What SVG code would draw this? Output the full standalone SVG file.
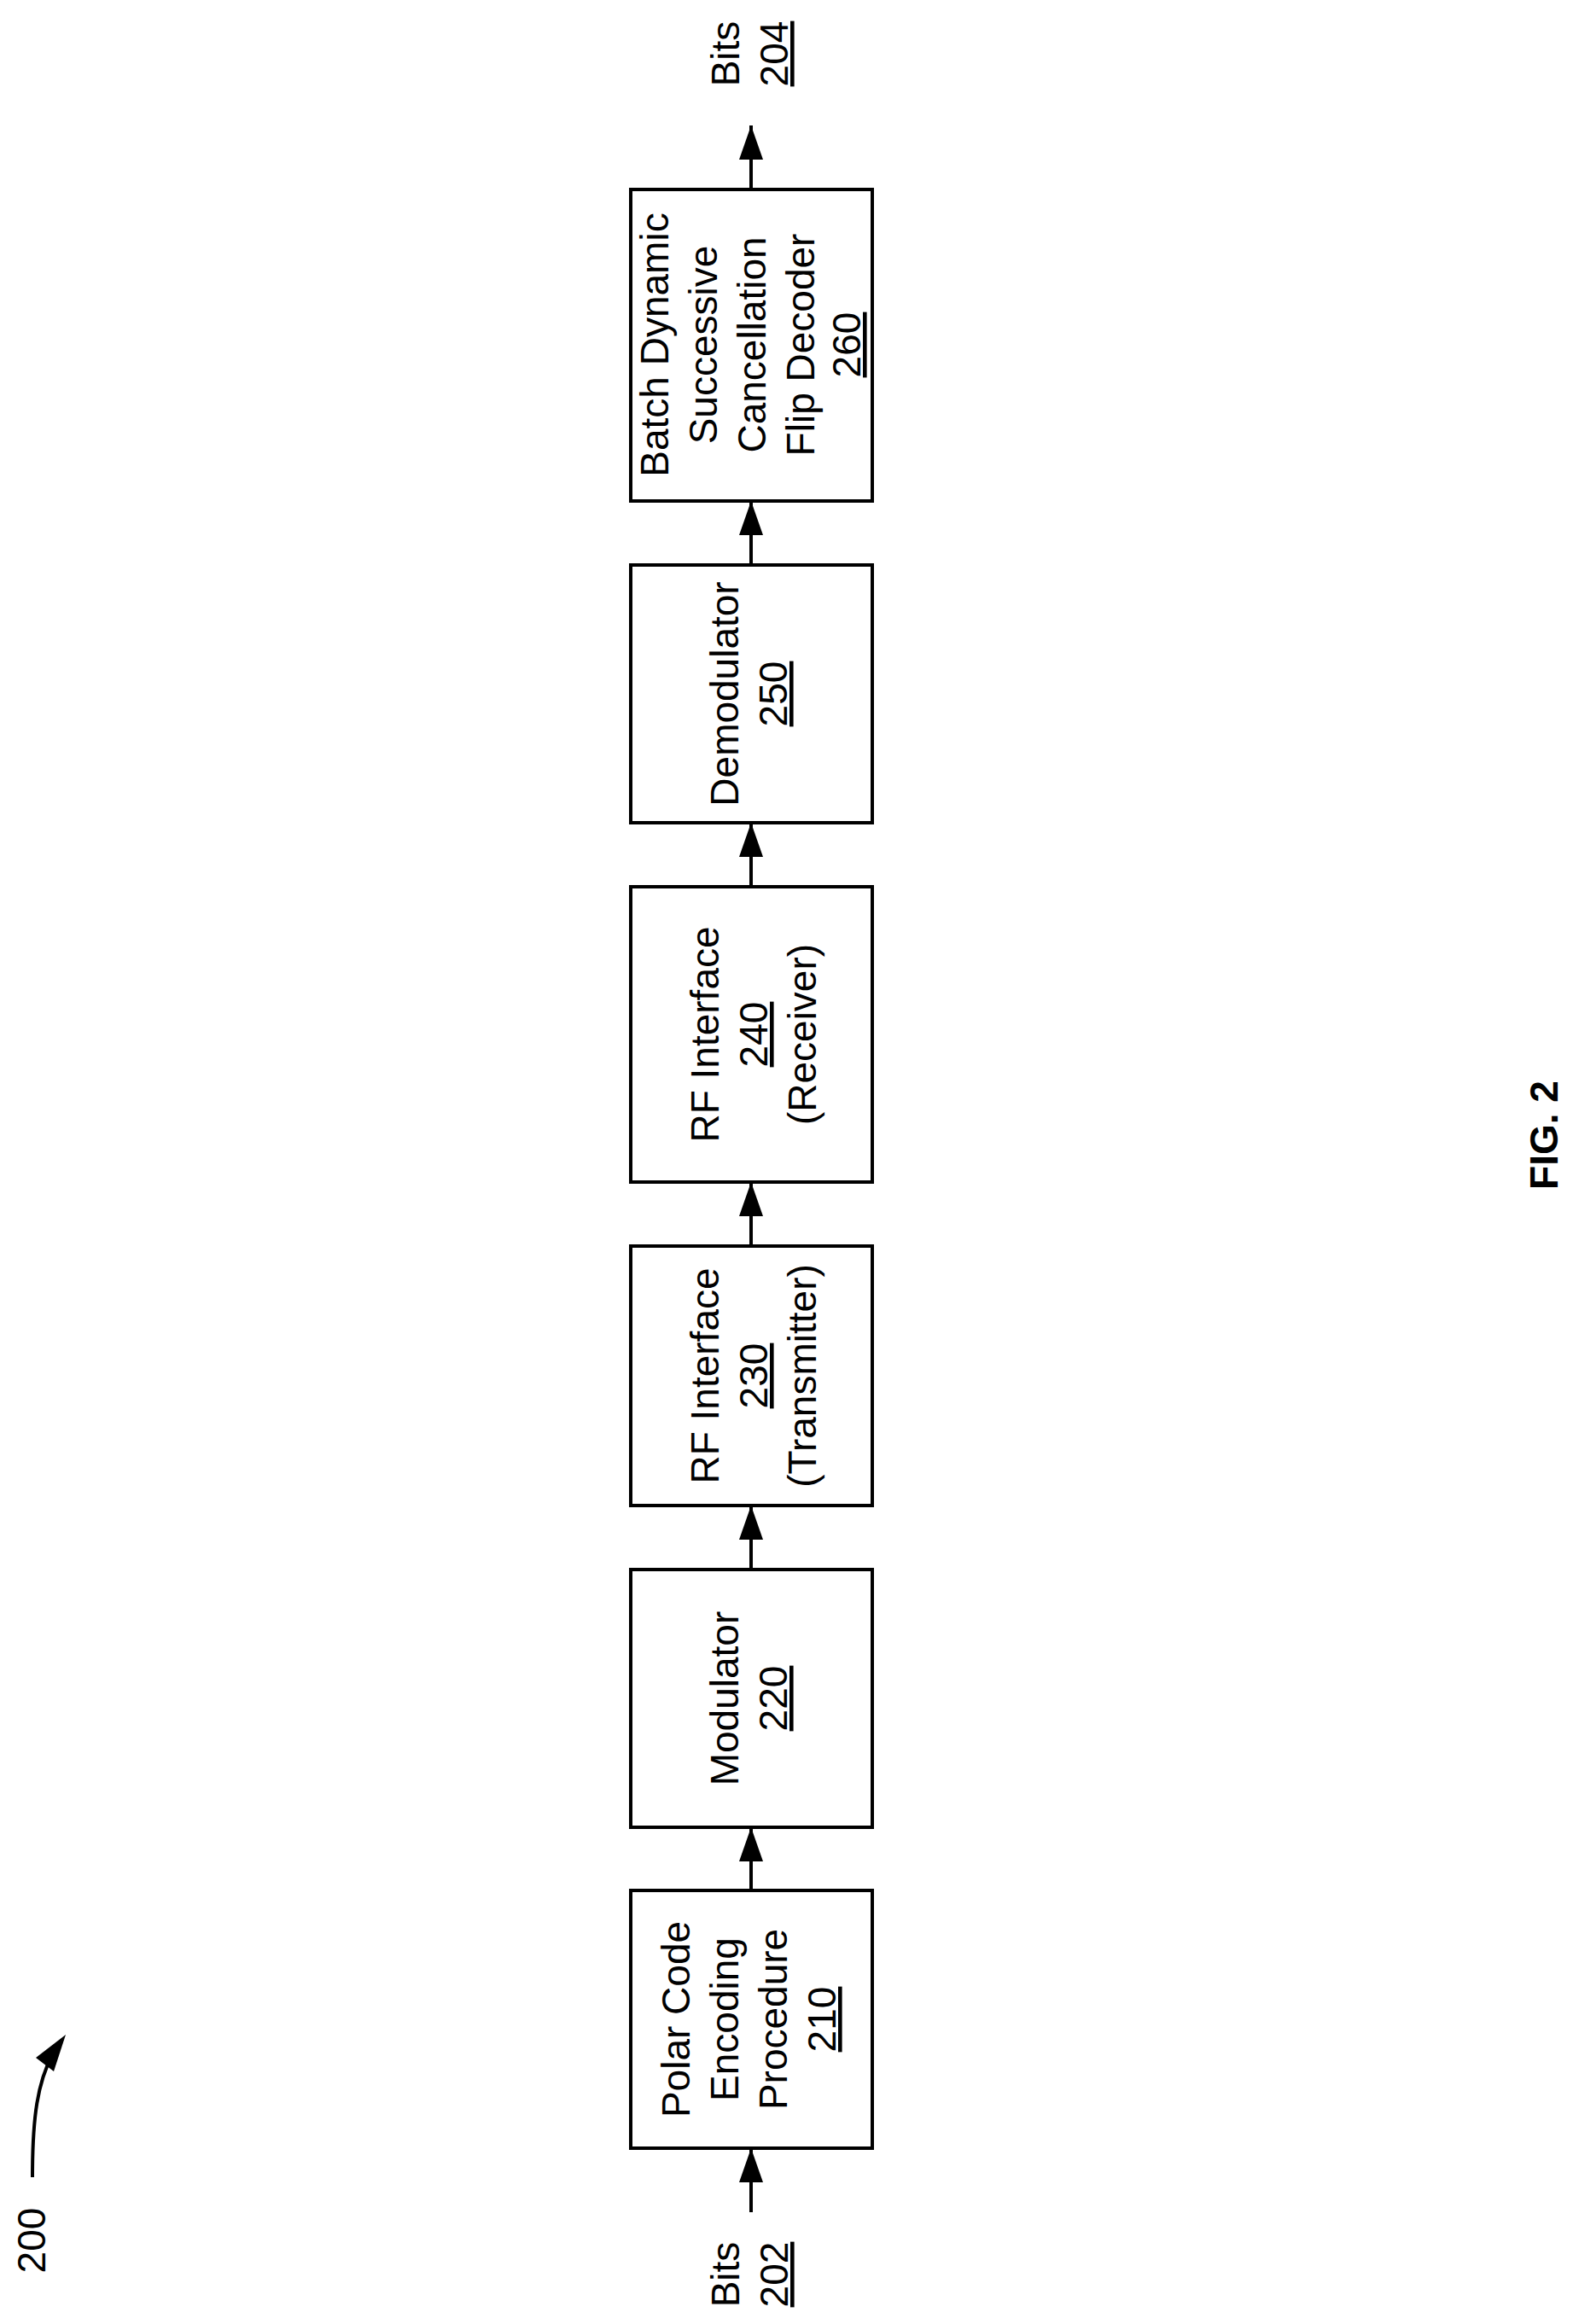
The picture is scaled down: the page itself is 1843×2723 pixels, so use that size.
<svg xmlns="http://www.w3.org/2000/svg" width="1843" height="2723" viewBox="0 0 1843 2723">
<style>
.b{fill:#fff;stroke:#000;stroke-width:4}
.t{font-family:"Liberation Sans",Arial,sans-serif;font-size:46px;text-anchor:middle;fill:#000}
.u{text-decoration:underline}
.c{stroke:#000;stroke-width:4;fill:none}
</style>
<defs><marker id="a" viewBox="0 0 10 10" refX="10" refY="5" markerWidth="10" markerHeight="7" markerUnits="userSpaceOnUse" orient="auto"><path d="M0,0L10,5L0,10Z"/></marker>
<marker id="h" viewBox="0 0 40 28" refX="40" refY="14" markerWidth="40" markerHeight="28" markerUnits="userSpaceOnUse" orient="auto"><path d="M0,0L40,14L0,28Z" fill="#000"/></marker></defs>
<g id="connectors">
<line class="c" x1="880" y1="2592" x2="880" y2="2517" marker-end="url(#h)"/>
<line class="c" x1="880" y1="2215" x2="880" y2="2141" marker-end="url(#h)"/>
<line class="c" x1="880" y1="1839" x2="880" y2="1764" marker-end="url(#h)"/>
<line class="c" x1="880" y1="1460" x2="880" y2="1385" marker-end="url(#h)"/>
<line class="c" x1="880" y1="1039" x2="880" y2="964" marker-end="url(#h)"/>
<line class="c" x1="880" y1="662" x2="880" y2="587" marker-end="url(#h)"/>
<line class="c" x1="880" y1="222" x2="880" y2="147" marker-end="url(#h)"/>
<path class="c" d="M38,2551 C38,2480 44,2440 62,2406"/>
<polygon points="77,2384 42,2411 63,2427"/>
</g>
<g id="n210"><rect class="b" x="739" y="2215" width="283" height="302"/>
<g transform="translate(880,2366) rotate(-90)"><text class="t" y="-72">Polar Code</text><text class="t" y="-15">Encoding</text><text class="t" y="42">Procedure</text><text class="t u" y="99">210</text></g></g>
<g id="n220"><rect class="b" x="739" y="1839" width="283" height="302"/>
<g transform="translate(880,1990) rotate(-90)"><text class="t" y="-15">Modulator</text><text class="t u" y="42">220</text></g></g>
<g id="n230"><rect class="b" x="739" y="1460" width="283" height="304"/>
<g transform="translate(880,1612) rotate(-90)"><text class="t" y="-38">RF Interface</text><text class="t u" y="19">230</text><text class="t" y="76">(Transmitter)</text></g></g>
<g id="n240"><rect class="b" x="739" y="1039" width="283" height="346"/>
<g transform="translate(880,1212) rotate(-90)"><text class="t" y="-38">RF Interface</text><text class="t u" y="19">240</text><text class="t" y="76">(Receiver)</text></g></g>
<g id="n250"><rect class="b" x="739" y="662" width="283" height="302"/>
<g transform="translate(880,813) rotate(-90)"><text class="t" y="-15">Demodulator</text><text class="t u" y="42">250</text></g></g>
<g id="n260"><rect class="b" x="739" y="222" width="283" height="365"/>
<g transform="translate(880,404) rotate(-90)"><text class="t" y="-97">Batch Dynamic</text><text class="t" y="-40">Successive</text><text class="t" y="17">Cancellation</text><text class="t" y="74">Flip  Decoder</text><text class="t u" y="128">260</text></g></g>
<g id="bits202" transform="translate(880,2665) rotate(-90)"><text class="t" y="-14">Bits</text><text class="t u" y="43">202</text></g>
<g id="bits204" transform="translate(880,63) rotate(-90)"><text class="t" y="-14">Bits</text><text class="t u" y="43">204</text></g>
<g id="l200" transform="translate(37,2625) rotate(-90)"><text class="t" y="16">200</text></g>
<g id="fig" transform="translate(1803,1330) rotate(-90)"><text class="t" style="font-weight:bold" y="22">FIG. 2</text></g>
</svg>
